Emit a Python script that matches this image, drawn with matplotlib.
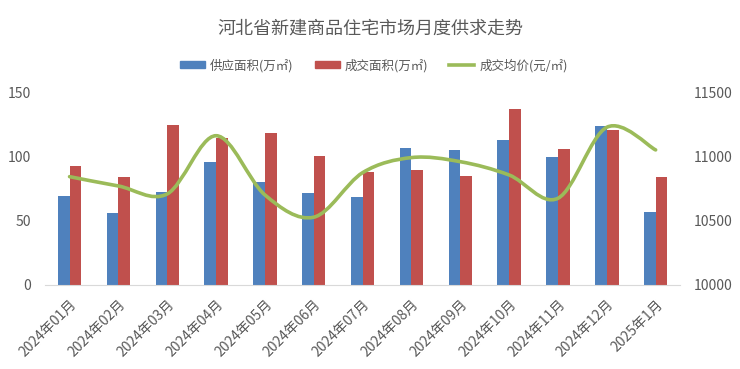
import numpy as np
import matplotlib
matplotlib.use("Agg")
import matplotlib.pyplot as plt
from matplotlib.path import Path
from matplotlib.patches import PathPatch, Patch
from matplotlib.lines import Line2D

plt.rcParams['font.family'] = ['Noto Sans CJK SC', 'DejaVu Sans']

months = ["2024年01月", "2024年02月", "2024年03月", "2024年04月", "2024年05月", "2024年06月",
          "2024年07月", "2024年08月", "2024年09月", "2024年10月", "2024年11月", "2024年12月", "2025年1月"]
supply = [69.5, 56, 72.7, 95.8, 80.2, 72.1, 68.5, 106.8, 105.7, 113, 99.7, 124, 57.3]
deal = [93, 84.4, 124.8, 114.6, 119, 100.8, 88, 89.8, 84.9, 137.5, 106, 120.8, 84.4]
price = [10846, 10773, 10711, 11166, 10703, 10529, 10877, 10995, 10963, 10859, 10677, 11232, 11055]

blue = "#4F81BD"
red = "#C0504D"
green = "#9BBB59"
gray = "#595959"


def smooth_path(xs, ys):
    # Excel-style smoothed line: cubic bezier through each point
    pts = np.column_stack([xs, ys]).astype(float)
    n = len(pts)
    verts = [pts[0]]
    codes = [Path.MOVETO]
    for i in range(n - 1):
        p0 = pts[i - 1] if i > 0 else pts[i]
        p1 = pts[i]
        p2 = pts[i + 1]
        p3 = pts[i + 2] if i + 2 < n else pts[i + 1]
        c1 = p1 + (p2 - p0) / 6
        c2 = p2 - (p3 - p1) / 6
        verts += [c1, c2, p2]
        codes += [Path.CURVE4] * 3
    return Path(verts, codes)


fig = plt.figure(figsize=(7.4, 3.69), dpi=100)
ax = fig.add_axes([0.061, 0.228, 0.858, 0.52])
ax2 = ax.twinx()

x = np.arange(len(months))
w = 0.24
ax.bar(x - w / 2, supply, w, color=blue, zorder=2)
ax.bar(x + w / 2, deal, w, color=red, zorder=2)

ax.set_xlim(-0.5, len(months) - 0.5)
ax.set_ylim(0, 150)
ax.set_yticks([0, 50, 100, 150])
ax2.set_ylim(10000, 11500)
ax2.set_yticks([10000, 10500, 11000, 11500])

ax2.add_patch(PathPatch(smooth_path(x, price), fill=False, edgecolor=green, lw=2.6,
                        capstyle='round', zorder=3))

ax.set_xticks(x)
ax.set_xticklabels(months, rotation=45, ha='right', rotation_mode='anchor', fontsize=9.5, color=gray)

for a in (ax, ax2):
    for s in a.spines.values():
        s.set_visible(False)
    a.tick_params(length=0, colors=gray, labelsize=10)
ax.spines['bottom'].set_visible(True)
ax.spines['bottom'].set_color("#D9D9D9")
ax.tick_params(axis='y', pad=10)
ax2.tick_params(axis='y', pad=10)
ax.tick_params(axis='x', pad=9)

fig.text(0.5, 0.922, "河北省新建商品住宅市场月度供求走势", ha='center', va='center',
         fontsize=13, color=gray)

handles = [Patch(color=blue), Patch(color=red), Line2D([], [], color=green, lw=2.6)]
labels = ["供应面积(万㎡)", "成交面积(万㎡)", "成交均价(元/㎡)"]
fig.legend(handles, labels, loc='center', bbox_to_anchor=(0.505, 0.823), ncol=3, frameon=False,
           fontsize=9, labelcolor=gray, handlelength=2.0, handleheight=0.45, columnspacing=1.7,
           handletextpad=0.4)

fig.savefig("out.png", dpi=100)
